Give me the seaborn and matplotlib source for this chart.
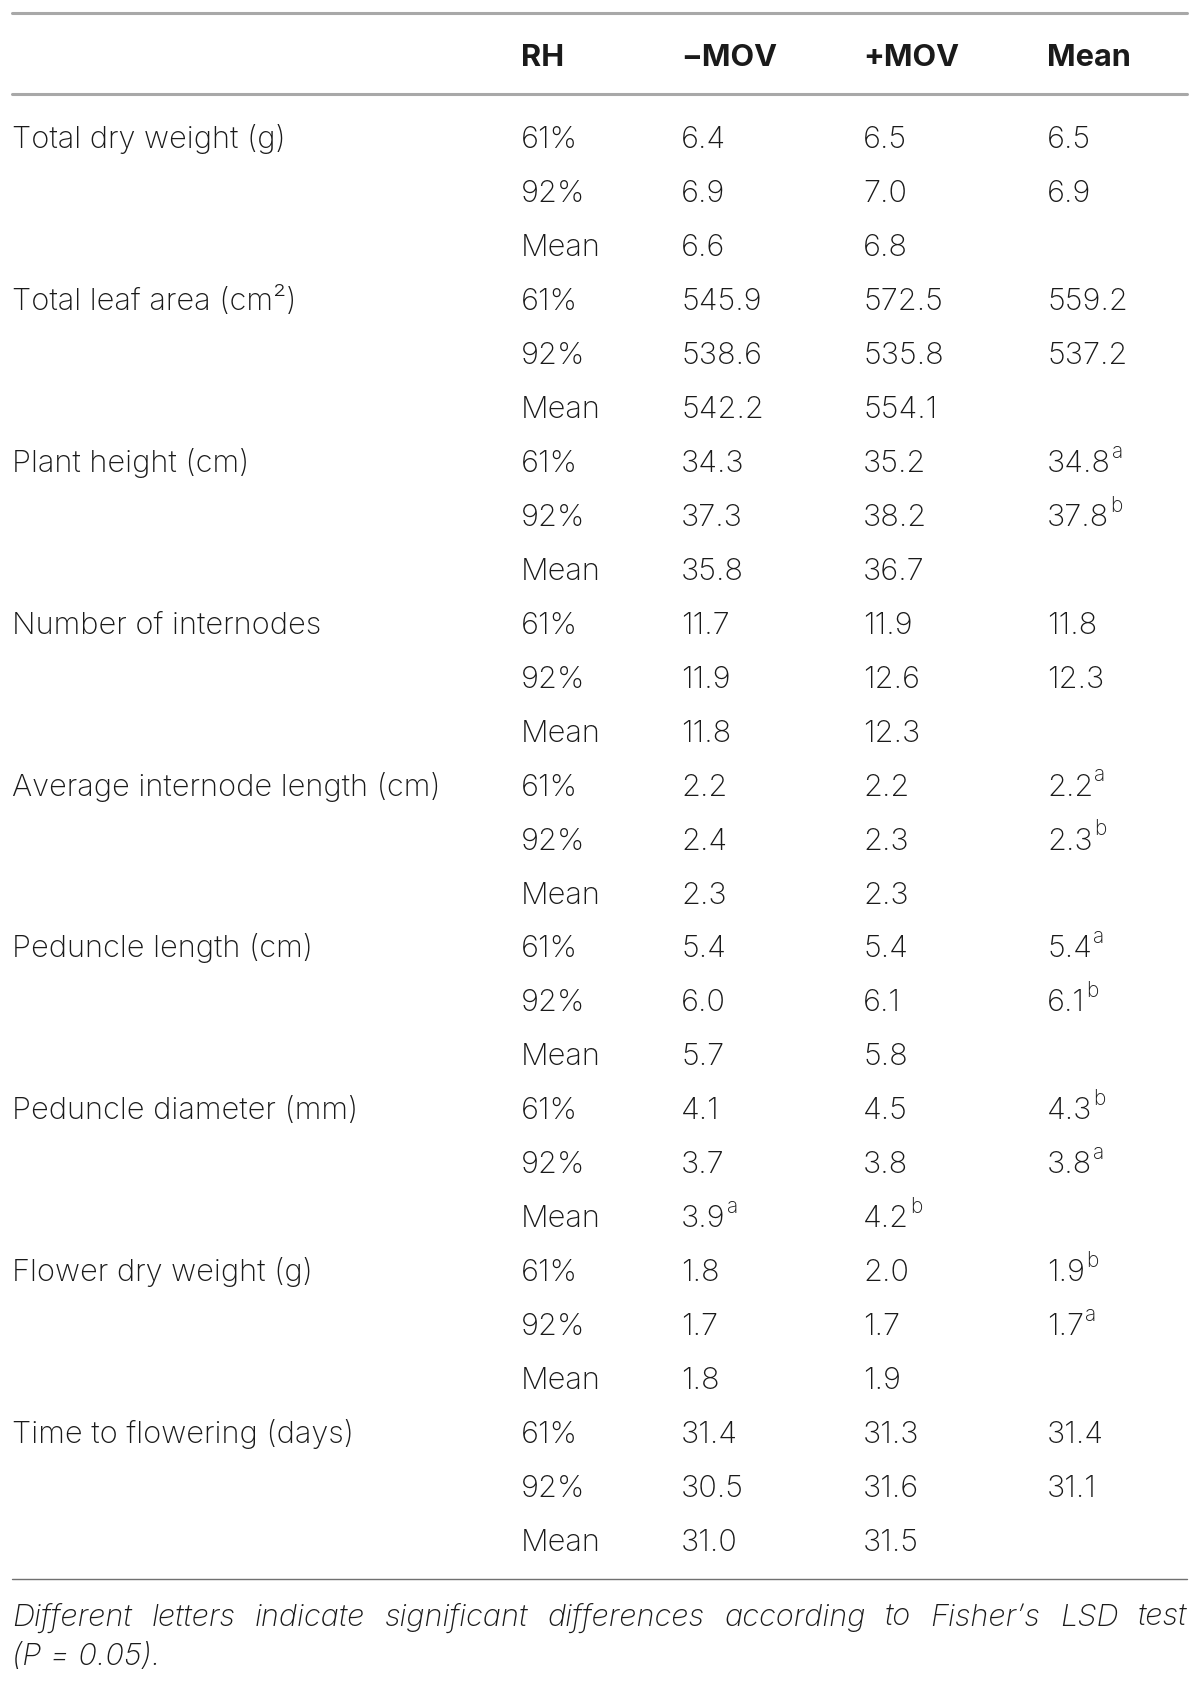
import numpy as np
import pandas as pd
import matplotlib
matplotlib.use("Agg")
import matplotlib.pyplot as plt
import seaborn as sns
from matplotlib import font_manager

# table contents
variables = ["Total dry weight (g)", "Total leaf area (cm²)", "Plant height (cm)",
             "Number of internodes", "Average internode length (cm)", "Peduncle length (cm)",
             "Peduncle diameter (mm)", "Flower dry weight (g)", "Time to flowering (days)"]
rh_levels = ["61%", "92%", "Mean"]
header = ["RH", "\u2212MOV", "+MOV", "Mean"]

minus_mov = [[6.4, 6.9, 6.6], [545.9, 538.6, 542.2], [34.3, 37.3, 35.8],
             [11.7, 11.9, 11.8], [2.2, 2.4, 2.3], [5.4, 6.0, 5.7],
             [4.1, 3.7, 3.9], [1.8, 1.7, 1.8], [31.4, 30.5, 31.0]]
plus_mov = [[6.5, 7.0, 6.8], [572.5, 535.8, 554.1], [35.2, 38.2, 36.7],
            [11.9, 12.6, 12.3], [2.2, 2.3, 2.3], [5.4, 6.1, 5.8],
            [4.5, 3.8, 4.2], [2.0, 1.7, 1.9], [31.3, 31.6, 31.5]]
rh_mean = [[6.5, 6.9], [559.2, 537.2], [34.8, 37.8], [11.8, 12.3], [2.2, 2.3],
           [5.4, 6.1], [4.3, 3.8], [1.9, 1.7], [31.4, 31.1]]

# significance letters
rh_mean_sup = [["", ""], ["", ""], ["a", "b"], ["", ""], ["a", "b"],
               ["a", "b"], ["b", "a"], ["b", "a"], ["", ""]]
mov_mean_sup = [["", ""], ["", ""], ["", ""], ["", ""], ["", ""],
                ["", ""], ["a", "b"], ["", ""], ["", ""]]

footnote = ("Different letters indicate significant differences according to "
            "Fisher\u2019s LSD test")
footnote2 = "(P = 0.05)."

sns.set_theme(style="white")
plt.rcParams["font.family"] = ["Inter", "DejaVu Sans"]

W, H = 1200, 1684
fig = plt.figure(figsize=(W / 100, H / 100), dpi=100)
ax = fig.add_axes([0, 0, 1, 1])
ax.set_xlim(0, W)
ax.set_ylim(H, 0)
ax.set_axis_off()
renderer = fig.canvas.get_renderer()

txt_color = "#1a1a1a"
weight = "light"

# pick the size so the longest label spans like the original (~427 px)
probe = ax.text(0, 0, variables[4], fontsize=20, fontweight=weight)
fs = 20 * 427 / probe.get_window_extent(renderer).width
probe.remove()

col_x = [12, 521, 681, 863, 1047]
row0, step = 137, 53.96
cap = fs * 100 / 72 * 0.72   # approx cap height in px
sup_fs = fs * 0.68

# rules
ax.plot([12, 1187], [13, 13], color="#a8a8a8", lw=2.2)
ax.plot([12, 1187], [94, 94], color="#a8a8a8", lw=2.2)
ax.plot([12, 1187], [1579, 1579], color="#707070", lw=1.0)

for j, h in enumerate(header):
    ax.text(col_x[j + 1], 55 + cap / 2, h, fontsize=fs, fontweight="bold",
            va="baseline", ha="left", color=txt_color)


def cell(x, y, s, sup=""):
    base = y + cap / 2
    t = ax.text(x, base, s, fontsize=fs, fontweight=weight, va="baseline",
                ha="left", color=txt_color)
    if sup:
        w = t.get_window_extent(renderer).width
        ax.text(x + w + 1, base - 0.64 * cap, sup, fontsize=sup_fs,
                fontweight=weight, va="baseline", ha="left", color=txt_color)
    return t


for i, var in enumerate(variables):
    for k, lvl in enumerate(rh_levels):
        y = row0 + (i * 3 + k) * step
        if k == 0:
            cell(col_x[0], y, var)
        cell(col_x[1], y, lvl)
        s1 = mov_mean_sup[i][0] if k == 2 else ""
        s2 = mov_mean_sup[i][1] if k == 2 else ""
        cell(col_x[2], y, f"{minus_mov[i][k]:.1f}", s1)
        cell(col_x[3], y, f"{plus_mov[i][k]:.1f}", s2)
        if k < 2:
            cell(col_x[4], y, f"{rh_mean[i][k]:.1f}", rh_mean_sup[i][k])

# justified footnote
words = footnote.split()
arts = [ax.text(0, 1615 + cap / 2, w, fontsize=fs, fontstyle="italic",
                fontweight=weight, va="baseline", ha="left", color=txt_color)
        for w in words]
widths = [a.get_window_extent(renderer).width for a in arts]
x0, x1 = 12, 1187
gap = (x1 - x0 - sum(widths)) / (len(words) - 1)
x = x0
for a, w in zip(arts, widths):
    a.set_x(x)
    x += w + gap
ax.text(x0, 1654 + cap / 2, footnote2, fontsize=fs, fontstyle="italic",
        fontweight=weight, va="baseline", ha="left", color=txt_color)

fig.savefig("out.png", dpi=100)
